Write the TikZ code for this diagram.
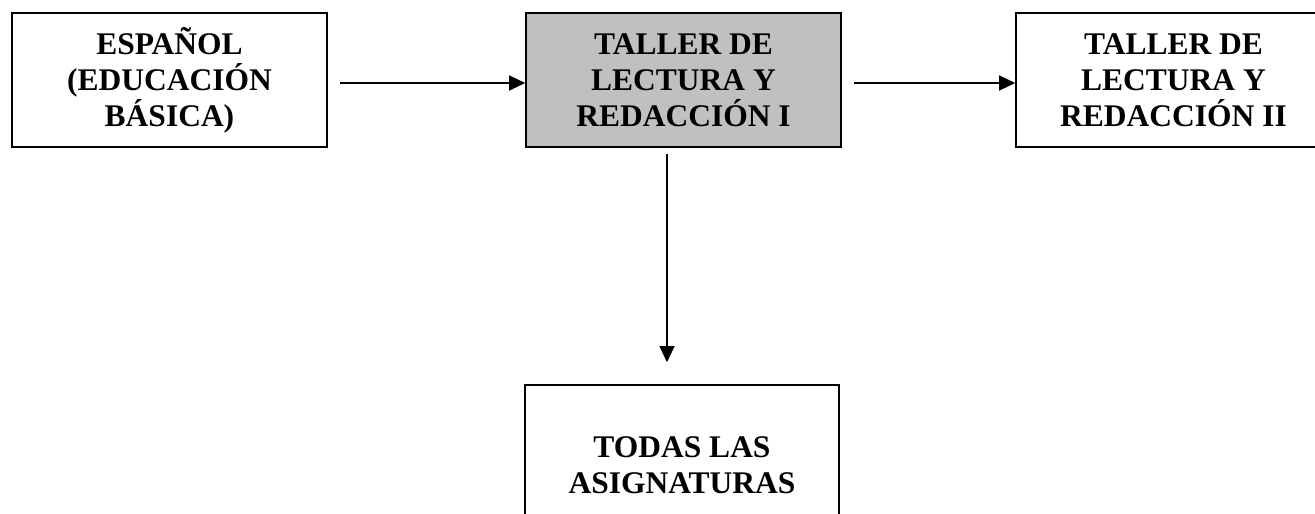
\documentclass[tikz,border=0pt]{standalone}
\usepackage{fontspec}
\setmainfont{Liberation Serif}
\usetikzlibrary{arrows.meta}
\definecolor{boxgray}{HTML}{C0C0C0}
\begin{document}
\begin{tikzpicture}[x=1pt,y=1pt,
  box/.style={draw=black,line width=1.6pt,minimum width=315pt,minimum height=134pt,
    inner sep=0pt,align=center,font=\bfseries\fontsize{31.5}{36}\selectfont},
  arr/.style={line width=1.1pt,-{Triangle[length=16pt,width=15pt]}}]
\useasboundingbox (0,0) rectangle (1315,-514);
\clip (0,0) rectangle (1315,-514);
\node[box] (b1) at (169.5,-80) {ESPAÑOL\\(EDUCACIÓN\\BÁSICA)};
\node[box,fill=boxgray] (b2) at (683.5,-80) {TALLER DE\\LECTURA Y\\REDACCIÓN I};
\node[box] (b3) at (1173.5,-80) {TALLER DE\\LECTURA Y\\REDACCIÓN II};
\node[box,minimum width=314pt,minimum height=160pt] (b4) at (682,-465) {TODAS LAS\\ASIGNATURAS};
\draw[arr] ([xshift=12pt,yshift=-3pt]b1.east) -- ([yshift=-3pt]b2.west);
\draw[arr] ([xshift=12pt,yshift=-3pt]b2.east) -- ([yshift=-3pt]b3.west);
\draw[arr] ([xshift=-16.5pt,yshift=-6pt]b2.south) -- ([xshift=-15pt,yshift=22pt]b4.north);
\end{tikzpicture}
\end{document}
